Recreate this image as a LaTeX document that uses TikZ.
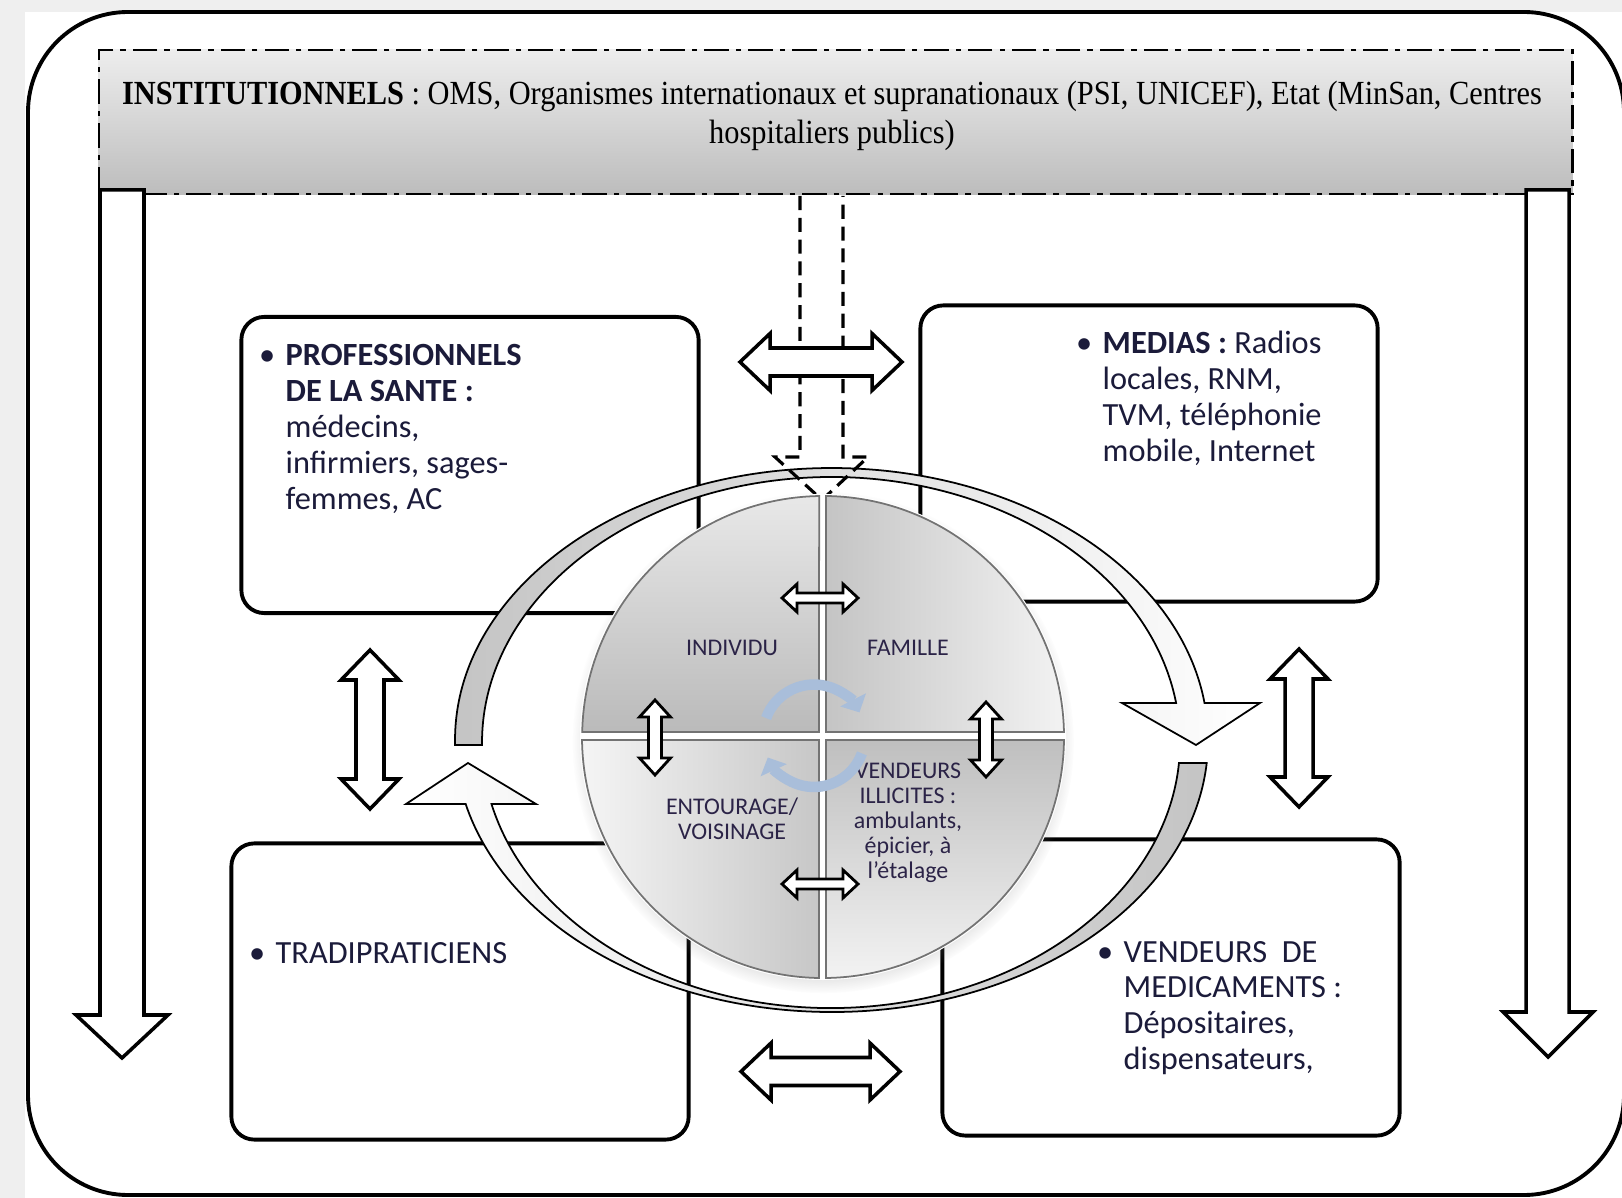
\documentclass[tikz,border=0pt]{standalone}
\usepackage{fontspec}
\setmainfont{Carlito}
\newfontfamily\instfont[FakeStretch=0.9]{Liberation Serif}
\usetikzlibrary{positioning, arrows.meta, shadows, fadings}

\definecolor{pagegray}{HTML}{EFEFEF}
\definecolor{navytext}{HTML}{1B1B3A}
\definecolor{quadtext}{HTML}{2B2347}
\definecolor{bandgray}{HTML}{C4C4C4}
\definecolor{cycleblue}{HTML}{A9BEDA}

\tikzstyle{frame} = [draw=black, line width=1.1pt, rounded corners=1cm]
\tikzstyle{instbox} = [draw=black, line width=0.6pt, dash pattern=on 7pt off 2pt on 1.5pt off 2pt,
  top color=black!7, bottom color=black!26, minimum width=14.73cm, minimum height=1.44cm]
\tikzstyle{actorbox} = [draw=black, line width=1.1pt, rounded corners=6.5pt, minimum width=4.57cm, minimum height=2.96cm]
\tikzstyle{blockarrow} = [draw=black, line width=1pt, fill=white]
\tikzstyle{smallarrow} = [draw=black, line width=0.8pt, fill=white]
\tikzstyle{dashedarrow} = [draw=black, line width=0.9pt, dash pattern=on 4pt off 2.2pt]
\tikzstyle{cyclebend} = [draw=black, line width=0.5pt]
\tikzstyle{quadrant} = [draw=black!55, line width=0.5pt]
\tikzstyle{spin} = [draw=cycleblue, line width=3pt, -{Triangle[length=4pt, width=8pt]}]
\tikzstyle{boxtext} = [inner sep=0pt, text=navytext, font=\fontsize{9.2}{10.2}\selectfont]
\tikzstyle{quadlabel} = [inner sep=0pt, text=quadtext, align=center, font=\fontsize{6.8}{7.15}\selectfont]

% double block arrow: style, centre, half length, shaft half width, head half width, head length
\newcommand{\dblarrow}[6]{%
  \draw[shift={#2}, #1] (-#3,0) -- ({#6-#3},-#5) -- ({#6-#3},-#4) -- ({#3-#6},-#4)
    -- ({#3-#6},-#5) -- (#3,0) -- ({#3-#6},#5) -- ({#3-#6},#4)
    -- ({#6-#3},#4) -- ({#6-#3},#5) -- cycle;}

\begin{document}
\begin{tikzpicture}[x=0.01cm, y=-0.01cm]
	\useasboundingbox (0,0) rectangle (1622,1198);
	\fill[pagegray] (0,0) rectangle (1622,1198);
	\fill[white] (25,12) rectangle (1622,1198);
	\draw[frame, fill=white] (28,12) rectangle (1624,1195);
	
	% Institutions
	\node[instbox] (inst) at (835.5,122) {};
	\node[inner sep=0pt, align=center, font=\instfont\fontsize{9.6}{11.1}\selectfont] (insttxt) at (832,116)
		{\textbf{INSTITUTIONNELS} : OMS, Organismes internationaux et supranationaux (PSI, UNICEF), Etat (MinSan, Centres\\hospitaliers publics)};
	
	% side arrows
	\draw[blockarrow] (100,190) -- (144,190) -- (144,1015) -- (168,1015) -- (122,1058) -- (76,1015) -- (100,1015) -- cycle;
	\draw[blockarrow] (1526,190) -- (1569,190) -- (1569,1012) -- (1593,1012) -- (1548,1057) -- (1503,1012) -- (1526,1012) -- cycle;
	
	% actors
	\node[actorbox] (prof) at (470,465) {};
	\node[actorbox] (medias) at (1149,453.5) {};
	\node[actorbox] (tradi) at (460,991.5) {};
	\node[actorbox] (vendeurs) at (1171,987.5) {};
	
	% exchanges between actors
	\dblarrow{blockarrow, rotate=90}{(370,729.5)}{79.5}{14}{29}{30}
	\dblarrow{blockarrow, rotate=90}{(1299,728)}{79}{14}{29}{30}
	\dblarrow{blockarrow}{(820.5,1071.5)}{79.5}{14}{28.5}{30}
	
	% cycle around the household
	\draw[cyclebend, left color=bandgray, right color=white] (455.1,745)
		arc[start angle=178.95, end angle=352.18, x radius=376.5, y radius=272]
		-- (1260,703) -- (1196,745) -- (1122,703) -- (1176.1,703)
		arc[start angle=351.44, end angle=179.46, x radius=349, y radius=265.5] -- cycle;
	\draw[cyclebend, left color=white, right color=bandgray] (1206.7,763)
		arc[start angle=4.85, end angle=166.39, x radius=376.5, y radius=272]
		-- (406,804) -- (468,763) -- (536,804) -- (491.5,804)
		arc[start angle=166.61, end angle=4.43, x radius=349, y radius=265.5] -- cycle;
	
	% institutions towards the household
	\draw[dashedarrow] (800,196) -- (800,457) -- (775,457) -- (822,500) -- (868,457) -- (843,457) -- (843,196);
	\dblarrow{blockarrow}{(821,362)}{81}{14}{28.5}{30}
	
	% household circle
	\fill[white, circular drop shadow={shadow xshift=0pt, shadow yshift=-1.5pt, shadow scale=1.04, opacity=0.45}] (823,737) circle[radius=241];
	\fill[white] (823,737) circle[radius=243];
	\draw[quadrant, top color=black!9, bottom color=black!27] (819,732) -- (582.2,732)
		arc[start angle=181.19, end angle=269.05, radius=241] -- cycle;
	\draw[quadrant, left color=black!23, right color=black!5] (826,732) -- (826,496.0)
		arc[start angle=270.71, end angle=358.81, radius=241] -- cycle;
	\draw[quadrant, top color=black!25, bottom color=black!5] (826,740) -- (1063.98,740)
		arc[start angle=0.71, end angle=89.29, radius=241] -- cycle;
	\draw[quadrant, left color=black!4, right color=black!22] (819,740) -- (819,978)
		arc[start angle=90.95, end angle=179.29, radius=241] -- cycle;
	
	\node[quadlabel] (individu) at (732,648) {INDIVIDU};
	\node[quadlabel] (famille) at (908,648) {FAMILLE};
	\node[quadlabel] (entourage) at (732,819) {ENTOURAGE/\\VOISINAGE};
	\node[quadlabel] (illicites) at (908,823) {VENDEURS\\ILLICITES :\\ambulants,\\épicier, à\\l'étalage};
	
	\draw[spin] (766.1,718.1) arc[start angle=200, end angle=333, radius=51];
	\draw[spin] (861.9,753.4) arc[start angle=20, end angle=155, radius=51];
	
	\dblarrow{smallarrow}{(820,598)}{38}{5}{14}{15}
	\dblarrow{smallarrow}{(820,884)}{38}{5}{14}{15}
	\dblarrow{smallarrow, rotate=90}{(655,737.5)}{37.5}{6.5}{15.5}{17}
	\dblarrow{smallarrow, rotate=90}{(986,739.5)}{37.5}{6.5}{15.5}{17}
	
	% texts of the actors
	\node[boxtext, anchor=base west] (proftxt) at (285,366) {\begin{tabular}[t]{@{}l@{}}
		\llap{\textbullet\hspace{3pt}}\textbf{PROFESSIONNELS}\\ \textbf{DE LA SANTE :}\\ médecins,\\ infirmiers, sages-\\ femmes, AC\end{tabular}};
	\node[boxtext, anchor=base west] (mediastxt) at (1102,354) {\begin{tabular}[t]{@{}l@{}}
		\llap{\textbullet\hspace{3pt}}\textbf{MEDIAS :} Radios\\ locales, RNM,\\ TVM, téléphonie\\ mobile, Internet\end{tabular}};
	\node[boxtext, anchor=base west] (traditxt) at (275,963) {\llap{\textbullet\hspace{3pt}}TRADIPRATICIENS};
	\node[boxtext, anchor=base west] (vendeurstxt) at (1123,962) {\begin{tabular}[t]{@{}l@{}}
		\llap{\textbullet\hspace{3pt}}VENDEURS\ \ DE\\ MEDICAMENTS :\\ Dépositaires,\\ dispensateurs,\end{tabular}};
	
\end{tikzpicture}
\end{document}
